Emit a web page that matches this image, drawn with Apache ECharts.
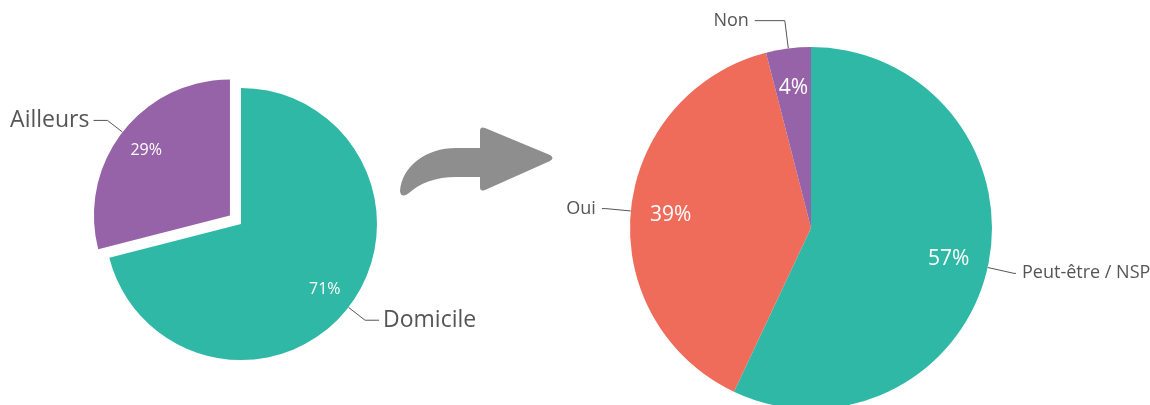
<!DOCTYPE html>
<html>
<head>
<meta charset="utf-8">
<script src="https://cdn.jsdelivr.net/npm/echarts@6/dist/echarts.min.js"></script>
<style>
  html, body { margin: 0; padding: 0; background: #fff; }
  #chart { width: 1150px; height: 405px; }
</style>
</head>
<body>
<div id="chart"></div>
<script>
// left pie : where
var leftNames = ['Domicile', 'Ailleurs']
var leftValues = [71, 29]
var leftColors = ['#2fb8a5', '#9763a8']
// right pie : answers
var rightNames = ['Peut-être / NSP', 'Oui', 'Non']
var rightValues = [57, 39, 4]
var rightColors = ['#2fb8a5', '#ef6b5a', '#9763a8']

var textColor = '#555'
var fontFam = '"Open Sans", "Noto Sans", sans-serif'
var arrowPath = 'M480 148 L480 131 Q480 126 485 128 L550 155 Q555 158 550 161 L485 190 Q480 192 480 187 L480 177 L456 177 C436 177 420 183 409 193 Q401 199 400 191 C402 166 426 148 456 148 Z'

function buildData (names, values, colors, extra) {
  return names.map(function (n, i) {
    var d = { name: n, value: values[i], itemStyle: { color: colors[i] } }
    if (extra && extra[i]) Object.assign(d, extra[i])
    return d
  })
}

var leftExtra = [
  { labelLine: { length: 21, length2: 14 } },
  { selected: true, labelLine: { length: 19, length2: 14 } }
]
var rightExtra = [
  { labelLine: { length: 27, length2: 2 } },
  { labelLine: { length: 25, length2: 4 } },
  { labelLine: { length: 28, length2: 30 } }
]

var chart = echarts.init(document.getElementById('chart'))

var option = {
  animation: false,
  textStyle: { fontFamily: fontFam },
  series: [
    {
      // curved arrow between the two pies
      type: 'custom',
      coordinateSystem: 'none',
      silent: true,
      data: [0],
      renderItem: function () {
        return {
          type: 'path',
          shape: { pathData: arrowPath },
          style: { fill: '#8e8e8e' }
        }
      }
    },
    {
      // left pie with outside labels
      type: 'pie',
      center: [241, 224],
      radius: 136,
      selectedMode: 'single',
      selectedOffset: 14,
      avoidLabelOverlap: false,
      silent: true,
      label: {
        position: 'outside',
        color: textColor,
        fontSize: 23,
        fontFamily: fontFam,
        formatter: '{b}',
        distanceToLabelLine: 4,
        padding: [3, 0, 0, 0]
      },
      labelLine: { lineStyle: { color: textColor, width: 1 } },
      data: buildData(leftNames, leftValues, leftColors, leftExtra)
    },
    {
      // ghost ring for left inside percentages
      type: 'pie',
      center: [241, 224],
      radius: 206,
      selectedMode: 'single',
      selectedOffset: 14,
      silent: true,
      avoidLabelOverlap: false,
      itemStyle: { color: 'rgba(0,0,0,0)' },
      label: {
        position: 'inside',
        color: '#fff',
        fontSize: 16,
        fontFamily: fontFam,
        formatter: '{d}%',
        padding: [4, 0, 0, 0]
      },
      labelLine: { show: false },
      data: leftNames.map(function (n, i) {
        return { name: n, value: leftValues[i], selected: i === 1 }
      })
    },
    {
      // right pie with outside labels
      type: 'pie',
      center: [811, 228],
      radius: 181,
      avoidLabelOverlap: false,
      silent: true,
      label: {
        position: 'outside',
        color: textColor,
        fontSize: 18,
        fontFamily: fontFam,
        formatter: '{b}',
        distanceToLabelLine: 6,
        overflow: 'none',
        padding: [5, 0, 0, 0]
      },
      labelLine: { lineStyle: { color: textColor, width: 1 } },
      data: buildData(rightNames, rightValues, rightColors, rightExtra)
    },
    {
      // ghost ring for right inside percentages
      type: 'pie',
      center: [811, 228],
      radius: 276,
      silent: true,
      avoidLabelOverlap: false,
      itemStyle: { color: 'rgba(0,0,0,0)' },
      label: {
        position: 'inside',
        color: '#fff',
        fontSize: 21,
        fontFamily: fontFam,
        formatter: '{d}%',
        padding: [5, 0, 0, 0]
      },
      labelLine: { show: false },
      data: rightNames.map(function (n, i) {
        return { name: n, value: rightValues[i] }
      })
    }
  ]
}

chart.setOption(option)
</script>
</body>
</html>
